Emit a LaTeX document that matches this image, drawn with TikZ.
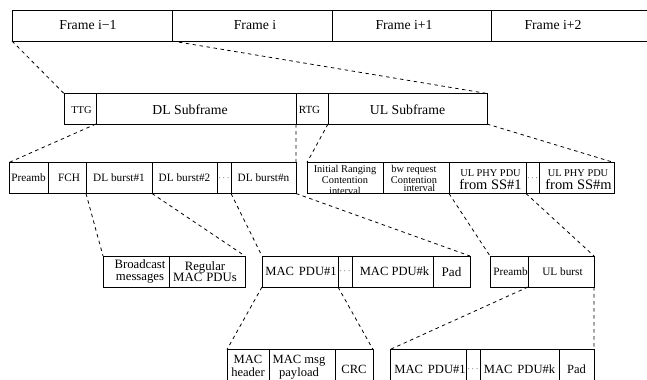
\documentclass[tikz,border=0pt]{standalone}
\usepackage{fontspec}
\setmainfont{Liberation Serif}
% font sizes used in the frame structure
\newcommand\szBig{\fontsize{13.8}{16}\selectfont}
\newcommand\szMid{\fontsize{12.6}{13.4}\selectfont}
\newcommand\szRow{\fontsize{11.3}{12}\selectfont}
\newcommand\szSmall{\fontsize{10.4}{11}\selectfont}
\newcommand\szDots{\fontsize{9}{9}\selectfont}
\begin{document}
\begin{tikzpicture}[x=1bp, y=-1bp,
  cell/.style 2 args={draw, line width=0.9bp, inner sep=0pt, outer sep=0pt,
    anchor=north west, minimum width=#1bp, minimum height=#2bp},
  lbl/.style={inner sep=0pt, align=center},
  link/.style={line width=0.8bp, dash pattern=on 3.5bp off 3.5bp},
]
\useasboundingbox (0,0) rectangle (647,379);
\clip (0,0) rectangle (647,379);

% --- frame sequence ---
\node[cell={160}{31}, label={[lbl,font=\szBig,xshift=-4bp]center:Frame i−1}] (fa) at (12,10) {};
\node[cell={160}{31}, label={[lbl,font=\szBig,xshift=3bp]center:Frame i}] (fb) at (172,10) {};
\node[cell={159}{31}, label={[lbl,font=\szBig,xshift=-7.5bp]center:Frame i+1}] (fc) at (332,10) {};
\node[cell={160}{31}, label={[lbl,font=\szBig,xshift=-18bp]center:Frame i+2}] (fd) at (491,10) {};

% --- subframes ---
\node[cell={32}{30.5}, label={[lbl,font=\fontsize{10.5}{11}\selectfont,xshift=1.5bp,yshift=-1bp]center:TTG}] (ttg) at (64,93.5) {};
\node[cell={200}{30.5}, label={[lbl,font=\szBig,xshift=-6bp,yshift=-1bp]center:DL Subframe}] (dl) at (96,93.5) {};
\node[cell={32}{30.5}, label={[lbl,font=\fontsize{11}{11}\selectfont,xshift=-2.5bp,yshift=-1bp]center:RTG}] (rtg) at (296,93.5) {};
\node[cell={159}{30.5}, label={[lbl,font=\szBig,yshift=-1bp]center:UL Subframe}] (ul) at (328,93.5) {};

% --- downlink subframe contents ---
\node[cell={39}{31}, label={[lbl,font=\szRow]center:Preamb}] (pre) at (9,162.5) {};
\node[cell={38}{31}, label={[lbl,font=\szRow,xshift=2bp]center:FCH}] (fch) at (48,162.5) {};
\node[cell={66}{31}, label={[lbl,font=\szRow]center:DL burst\#1}] (dla) at (86,162.5) {};
\node[cell={65}{31}, label={[lbl,font=\szRow]center:DL burst\#2}] (dlb) at (152,162.5) {};
\node[cell={14}{31}, label={[lbl,font=\szDots]center:$\cdots$}] (dtsa) at (217,162.5) {};
\node[cell={65}{31}, label={[lbl,font=\szRow]center:DL burst\#n}] (dln) at (231,162.5) {};

% --- uplink subframe contents ---
\node[cell={76}{31}, label={[lbl,font=\szSmall,yshift=-2bp]center:Initial Ranging\\Contention\\interval}] (ini) at (307,162.5) {};
\node[cell={66}{31},
  label={[lbl,font=\szSmall,xshift=-2bp,yshift=3.5bp]center:bw request\\Contention},
  label={[lbl,font=\szSmall,xshift=3.5bp,yshift=-10bp]center:interval}] (bw) at (383,162.5) {};
\node[cell={77}{31},
  label={[lbl,font=\szSmall,xshift=3bp,yshift=5bp]center:UL PHY PDU},
  label={[lbl,font=\fontsize{14.5}{15}\selectfont,xshift=3bp,yshift=-6.5bp]center:from SS\#1}] (upa) at (449,162.5) {};
\node[cell={13}{31}, label={[lbl,font=\szDots]center:$\cdots$}] (dtsb) at (526,162.5) {};
\node[cell={75}{31},
  label={[lbl,font=\szSmall,xshift=1.5bp,yshift=5bp]center:UL PHY PDU},
  label={[lbl,font=\fontsize{14.5}{15}\selectfont,xshift=2bp,yshift=-6.5bp]center:from SS\#m}] (upm) at (539,162.5) {};

% --- DL burst contents ---
\node[cell={66}{31}, label={[lbl,font=\fontsize{12.8}{11.5}\selectfont,xshift=4bp]center:Broadcast\\messages}] (bc) at (103,256) {};
\node[cell={76}{31}, label={[lbl,font=\fontsize{12.8}{11.5}\selectfont,xshift=-2bp]center:Regular\\MAC\hspace{4bp}PDUs}] (rg) at (169,256) {};
\node[cell={76}{31}, label={[lbl,font=\szMid,xshift=1bp]center:MAC\hspace{5bp}PDU\#1}] (ma) at (262,256) {};
\node[cell={14}{31}, label={[lbl,font=\szDots]center:$\cdots$}] (dtsc) at (338,256) {};
\node[cell={81}{31}, label={[lbl,font=\szMid,xshift=2bp]center:MAC PDU\#k}] (mk) at (352,256) {};
\node[cell={37}{31}, label={[lbl,font=\fontsize{13.2}{14}\selectfont]center:Pad}] (pd) at (433,256) {};

% --- UL PHY PDU contents ---
\node[cell={38}{31}, label={[lbl,font=\szRow,xshift=1.5bp]center:Preamb}] (upr) at (490,256) {};
\node[cell={66}{31}, label={[lbl,font=\szRow,xshift=1.5bp]center:UL burst}] (ulb) at (528,256) {};

% --- MAC PDU contents ---
\node[cell={42}{40}, label={[lbl,font=\szMid,yshift=3.5bp]center:MAC\\header}] (mh) at (227,349.5) {};
\node[cell={66}{40}, label={[lbl,font=\szMid,xshift=-3bp,yshift=2.5bp]center:MAC msg\\payload}] (mp) at (269,349.5) {};
\node[cell={38}{40}, label={[lbl,font=\szMid]center:CRC}] (crc) at (335,349.5) {};

% --- UL burst contents ---
\node[cell={76}{40}, label={[lbl,font=\szMid,xshift=2bp]center:MAC\hspace{5bp}PDU\#1}] (ba) at (390,349.5) {};
\node[cell={14}{40}, label={[lbl,font=\szDots]center:$\cdots$}] (dtsd) at (466,349.5) {};
\node[cell={79}{40}, label={[lbl,font=\szMid]center:MAC\hspace{5bp}PDU\#k}] (bk) at (480,349.5) {};
\node[cell={35}{40}, label={[lbl,font=\szMid]center:Pad}] (bp) at (559,349.5) {};

% --- expansion guides ---
\draw[link] (fa.south west) -- (ttg.north west);
\draw[link] (fb.south west) -- (ul.north east);
\draw[link] (dl.south west) -- (pre.north west);
\draw[link] (rtg.south west) -- (dln.north east);
\draw[link] (ul.south west) -- (ini.north west);
\draw[link] (ul.south east) -- (upm.north east);
\draw[link] (dla.south west) -- (bc.north west);
\draw[link] (dlb.south west) -- (rg.north east);
\draw[link] (dln.south west) -- (ma.north west);
\draw[link] (dln.south east) -- (pd.north east);
\draw[link] (upa.south west) -- (upr.north west);
\draw[link] (upa.south east) -- (ulb.north east);
\draw[link] (ma.south west) -- (mh.north west);
\draw[link] (ma.south east) -- (crc.north east);
\draw[link] (ulb.south west) -- (ba.north west);
\draw[link] (ulb.south east) -- (bp.north east);
\end{tikzpicture}
\end{document}
